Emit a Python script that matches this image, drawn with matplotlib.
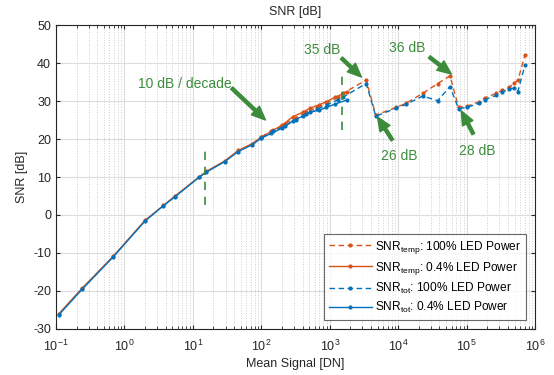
import numpy as np
import matplotlib
matplotlib.use("Agg")
import matplotlib.pyplot as plt
from matplotlib.ticker import LogLocator, NullFormatter

plt.rcParams['font.family'] = ['Liberation Sans', 'DejaVu Sans']
plt.rcParams['mathtext.fontset'] = 'custom'
plt.rcParams['mathtext.rm'] = 'Liberation Sans'
plt.rcParams['axes.unicode_minus'] = False

# 0.4% LED power (solid)
x_low = [0.11, 0.24, 0.69, 2.0, 3.7, 5.4, 12.3, 15.8, 29, 46, 72, 100, 140,
         200, 290, 400, 510, 700, 890, 1200, 1800]
snr_temp_low = [-26.0, -19.3, -10.8, -1.4, 2.5, 4.9, 10.0, 11.5, 14.2, 17.0,
                18.7, 20.5, 22.0, 23.6, 25.9, 27.0, 28.1, 29.0, 29.8, 31.0, 32.4]
snr_tot_low = [-26.3, -19.6, -11.0, -1.6, 2.4, 4.7, 9.9, 11.3, 14.0, 16.7,
               18.4, 20.2, 21.5, 22.8, 24.8, 26.0, 27.0, 27.6, 28.3, 29.2, 30.3]

# 100% LED power (dashed)
x_high = [100, 150, 220, 320, 450, 650, 900, 1300, 1550, 3400, 4700, 9300,
          13000, 22700, 37700, 57000, 76000, 100000, 152000, 182000, 270000,
          330000, 420000, 490000, 560000, 710000]
snr_temp_high = [20.6, 22.3, 24.0, 25.6, 27.0, 28.3, 29.5, 31.0, 32.0, 35.5,
                 26.3, 28.3, 29.4, 32.0, 34.6, 36.6, 28.4, 28.6, 29.8, 30.8,
                 32.0, 32.9, 33.6, 34.7, 35.5, 42.1]
snr_tot_high = [20.3, 22.0, 23.5, 25.0, 26.5, 27.8, 29.0, 30.3, 31.0, 34.6,
                26.0, 28.1, 29.1, 31.3, 30.1, 33.8, 28.0, 28.3, 29.4, 30.3,
                31.5, 32.4, 33.1, 33.4, 32.5, 39.5]

x_ticks = [1e-1, 1e0, 1e1, 1e2, 1e3, 1e4, 1e5, 1e6]
y_ticks = [-30, -20, -10, 0, 10, 20, 30, 40, 50]

orange = '#D95319'
blue = '#0072BD'
green = '#3C8C3C'

fig = plt.figure(figsize=(5.54, 3.75), dpi=100)
ax = fig.add_axes([0.101, 0.1227, 0.865, 0.8106])

style = dict(marker='.', ms=4, lw=1)
ax.plot(x_high, snr_temp_high, '--', color=orange, dashes=(4, 2.5), **style,
        label=r'SNR$_{\mathrm{temp}}$: 100% LED Power')
ax.plot(x_low, snr_temp_low, '-', color=orange, **style,
        label=r'SNR$_{\mathrm{temp}}$: 0.4% LED Power')
ax.plot(x_high, snr_tot_high, '--', color=blue, dashes=(4, 2.5), **style,
        label=r'SNR$_{\mathrm{tot}}$: 100% LED Power')
ax.plot(x_low, snr_tot_low, '-', color=blue, **style,
        label=r'SNR$_{\mathrm{tot}}$: 0.4% LED Power')

# slope guides
ax.plot([15, 15], [2.5, 17.5], color=green, lw=1.2, dashes=(5, 4))
ax.plot([1500, 1500], [22.5, 37.5], color=green, lw=1.2, dashes=(5, 4))

ax.set_xscale('log')
ax.set_xticks(x_ticks)
ax.set_yticks(y_ticks)
ax.xaxis.set_minor_locator(LogLocator(base=10, subs=np.arange(2, 10), numticks=20))
ax.xaxis.set_minor_formatter(NullFormatter())
ax.set_xlim(0.1, 1e6)
ax.set_ylim(-30, 50)

ax.grid(True, which='major', color='#dcdcdc', lw=0.8, ls='-')
ax.grid(True, which='minor', axis='x', color='#cccccc', lw=0.7, ls=':')
ax.set_axisbelow(True)
ax.tick_params(direction='in', which='both', top=True, right=True,
               labelsize=9, colors='#262626', length=3)
ax.tick_params(which='minor', length=2)
ax.tick_params(axis='x', which='major', pad=7)
for s in ax.spines.values():
    s.set_color('#262626')
    s.set_linewidth(0.8)

ax.set_title('SNR [dB]', fontsize=9, color='#262626', pad=7)
ax.set_xlabel('Mean Signal [DN]', fontsize=9, color='#262626', labelpad=3)
ax.set_ylabel('SNR [dB]', fontsize=9, color='#262626', labelpad=4)

arrow = dict(arrowstyle='simple,head_length=1.0,head_width=0.85,tail_width=0.22',
             color=green, shrinkA=0, shrinkB=0)
notes = [
    ('10 dB / decade', (7.6, 34.5), (36.9, 33.4), (115, 25.0)),
    ('35 dB', (783, 43.4), (1480, 41.3), (2900, 36.3)),
    ('36 dB', (13600, 43.9), (28400, 41.6), (59600, 37.1)),
    ('26 dB', (10400, 15.5), (8220, 19.7), (4970, 25.8)),
    ('28 dB', (142000, 16.8), (125000, 21.3), (83400, 27.4)),
]
for txt, tpos, tail, head in notes:
    ax.text(tpos[0], tpos[1], txt, color=green, fontsize=10,
            ha='center', va='center')
    ax.annotate('', xy=head, xytext=tail, arrowprops=arrow)

leg = ax.legend(loc='lower right', fontsize=8.6, frameon=True, fancybox=False,
                edgecolor='#444444', handlelength=3.6, handletextpad=0.3,
                labelspacing=0.35, borderpad=0.4, borderaxespad=0.75)
leg.get_frame().set_linewidth(0.8)

fig.savefig('out.png', dpi=100)
